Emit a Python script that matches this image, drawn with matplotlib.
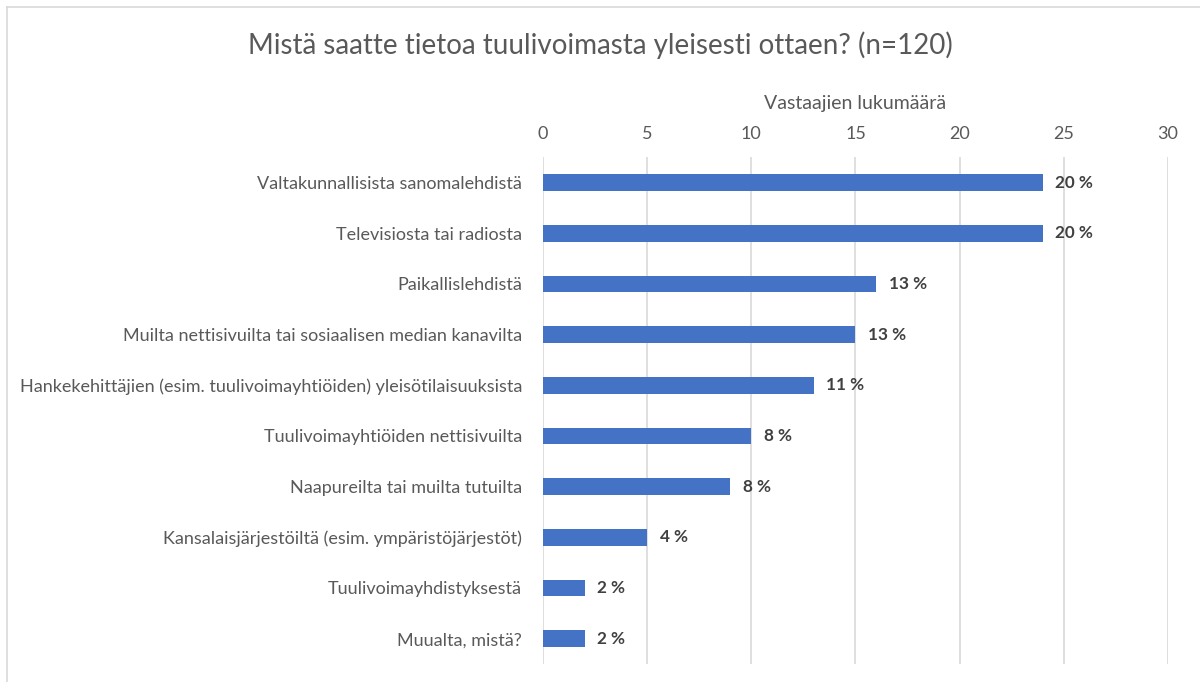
import matplotlib
matplotlib.use("Agg")
import matplotlib.pyplot as plt
from matplotlib.lines import Line2D

categories = [
    "Valtakunnallisista sanomalehdistä",
    "Televisiosta tai radiosta",
    "Paikallislehdistä",
    "Muilta nettisivuilta tai sosiaalisen median kanavilta",
    "Hankekehittäjien (esim. tuulivoimayhtiöiden) yleisötilaisuuksista",
    "Tuulivoimayhtiöiden nettisivuilta",
    "Naapureilta tai muilta tutuilta",
    "Kansalaisjärjestöiltä (esim. ympäristöjärjestöt)",
    "Tuulivoimayhdistyksestä",
    "Muualta, mistä?",
]
counts = [24, 24, 16, 15, 13, 10, 9, 5, 2, 2]
pct_labels = ["20 %", "20 %", "13 %", "13 %", "11 %", "8 %", "8 %", "4 %", "2 %", "2 %"]
xticks = [0, 5, 10, 15, 20, 25, 30]

plt.rcParams["font.family"] = ["Lato", "DejaVu Sans"]
TXT = "#595959"

fig = plt.figure(figsize=(12, 6.82), dpi=100)
ax = fig.add_axes([0.4525, 0.0264, 0.5208, 0.743])

y = list(range(len(categories)))
ax.barh(y, counts, height=0.33, color="#4472C4", zorder=3)
ax.set_ylim(len(categories) - 0.5, -0.5)
ax.set_xlim(0, 30)

for yi, c, lab in zip(y, counts, pct_labels):
    ax.text(c + 0.6, yi, lab, va="center", ha="left", fontsize=12.3,
            fontweight="bold", color="#404040")

ax.xaxis.tick_top()
ax.xaxis.set_label_position("top")
ax.set_xticks(xticks)
ax.set_xticklabels([str(t) for t in xticks], fontsize=13, color=TXT)
ax.set_xlabel("Vastaajien lukumäärä", fontsize=14, color=TXT, labelpad=12)
ax.set_yticks(y)
ax.set_yticklabels(categories, fontsize=13, color=TXT)
ax.tick_params(axis="both", length=0)
ax.tick_params(axis="x", pad=11)
ax.tick_params(axis="y", pad=15)
ax.grid(axis="x", color="#d9d9d9", linewidth=1.2, zorder=0)
for s in ax.spines.values():
    s.set_visible(False)

fig.text(0.5, 0.934, "Mistä saatte tietoa tuulivoimasta yleisesti ottaen? (n=120)",
         ha="center", va="center", fontsize=20, color=TXT)

# chart frame (top and left edges)
fig.add_artist(Line2D([7 / 1200, 1], [1 - 7 / 682, 1 - 7 / 682], color="#d9d9d9",
                      linewidth=1.2, transform=fig.transFigure))
fig.add_artist(Line2D([7 / 1200, 7 / 1200], [0, 1 - 7 / 682], color="#d9d9d9",
                      linewidth=1.2, transform=fig.transFigure))

fig.savefig("out.png", dpi=100)
